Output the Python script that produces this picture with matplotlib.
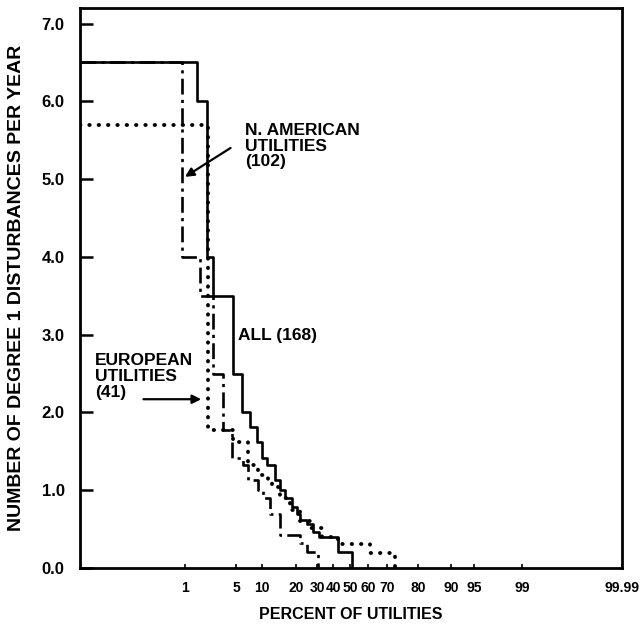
import numpy as np
import matplotlib
matplotlib.use("Agg")
import matplotlib.pyplot as plt

plt.rcParams['font.family'] = ['Liberation Sans', 'DejaVu Sans']
plt.rcParams['font.weight'] = 'bold'

# step curves: level held until the percent where it drops
all_pct = [1.94, 2.72, 3.2, 4.76, 6.15, 7.7, 9.0, 10.0, 11.5, 13.8, 15.3, 16.8, 18.8,
           20.5, 21.9, 25.2, 28.0, 31.0, 43.0, 51.0]
all_lvl = [6.5, 6.0, 4.0, 3.5, 2.5, 2.0, 1.81, 1.62, 1.42, 1.32, 1.13, 1.0, 0.9,
           0.78, 0.7, 0.62, 0.57, 0.46, 0.40, 0.21]

nam_pct = [0.97, 2.18, 3.2, 4.0, 4.69, 6.35, 7.3, 9.2, 10.3, 12.4, 15.3, 21.9, 25.2, 30.6]
nam_lvl = [6.5, 4.0, 3.5, 2.5, 1.77, 1.41, 1.32, 1.13, 1.0, 0.9, 0.7, 0.42, 0.32, 0.21]

eur_pct = [2.8, 4.76, 7.3, 9.2, 11.8, 12.9, 15.3, 18.2, 21.9, 26.7, 33.0, 43.0, 61.0, 72.6]
eur_lvl = [5.7, 1.77, 1.62, 1.32, 1.19, 1.09, 1.04, 0.9, 0.75, 0.6, 0.52, 0.40, 0.31, 0.19]

x_ticks = [1, 5, 10, 20, 30, 40, 50, 60, 70, 80, 90, 95, 99, 99.99]
x_labels = ['1', '5', '10', '20', '30', '40', '50', '60', '70', '80', '90', '95', '99', '99.99']
y_ticks = [0, 1, 2, 3, 4, 5, 6, 7]

# the paper's hand drawn percent axis, anchored at the tick marks
scale_pct = [0.1] + x_ticks
scale_pos = [80, 185, 236, 262, 296, 317, 333, 350, 368, 387, 418, 451, 474, 522, 622]


def fwd(p):
    return np.interp(p, scale_pct, scale_pos)


def inv(u):
    return np.interp(u, scale_pos, scale_pct)


def steps(pct, lvl):
    x = [0.1] + list(pct)
    y = list(lvl) + [0.0]
    return x, y


fig = plt.figure(figsize=(6.42, 6.28), dpi=100)
ax = fig.add_axes([80 / 642, 1 - 568 / 628, 542 / 642, 560 / 628])
ax.set_xscale('function', functions=(fwd, inv))

x, y = steps(all_pct, all_lvl)
ax.plot(x, y, drawstyle='steps-post', color='black', lw=1.9)
x, y = steps(nam_pct, nam_lvl)
ax.plot(x, y, drawstyle='steps-post', color='black', lw=1.9, linestyle=(0, (6, 2, 1.2, 2)))
x, y = steps(eur_pct, eur_lvl)
ax.plot(x, y, drawstyle='steps-post', color='black', lw=2.8, linestyle=(0, (0.1, 2.3)),
        dash_capstyle='round', solid_capstyle='round')

ax.set_xlim(0.1, 99.99)
ax.set_ylim(0, 7.2)
ax.set_xticks(x_ticks)
ax.set_xticklabels(x_labels)
ax.set_yticks(y_ticks)
ax.set_yticklabels(['%.1f' % v for v in y_ticks])
ax.tick_params(axis='y', direction='in', length=9, width=1.8, labelsize=12, pad=11)
ax.tick_params(axis='x', direction='in', length=3, width=1.2, labelsize=10, pad=9)
ax.minorticks_off()
for s in ax.spines.values():
    s.set_linewidth(2)

ax.set_xlabel('PERCENT OF UTILITIES', fontsize=11.5, fontweight='bold', labelpad=9)
ax.set_ylabel('NUMBER OF DEGREE 1 DISTURBANCES PER YEAR', fontsize=14, fontweight='bold',
              labelpad=12)

ax.text(6.7, 5.72, 'N. AMERICAN\nUTILITIES\n(102)', ha='left', va='top', fontsize=12.5,
        fontweight='bold', linespacing=1.05)
ax.annotate('', xy=(0.98, 5.01), xytext=(4.76, 5.42),
            arrowprops=dict(arrowstyle='-|>', lw=1.6, color='black', mutation_scale=13))
ax.text(5.4, 2.99, 'ALL (168)', ha='left', va='center', fontsize=12.5, fontweight='bold')
ax.text(0.23, 2.76, 'EUROPEAN\nUTILITIES\n(41)', ha='left', va='top', fontsize=12.5,
        fontweight='bold', linespacing=1.05)
ax.annotate('', xy=(2.49, 2.17), xytext=(0.62, 2.17),
            arrowprops=dict(arrowstyle='-|>', lw=1.6, color='black', mutation_scale=13))

plt.savefig('out.png', dpi=100)
